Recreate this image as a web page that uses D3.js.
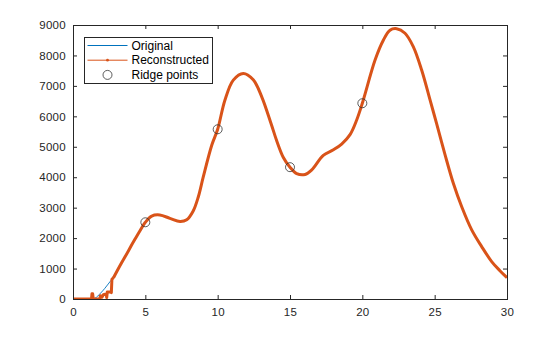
<!DOCTYPE html>
<html>
<head>
<meta charset="utf-8">
<script src="https://cdn.jsdelivr.net/npm/d3@7"></script>
<style>
  body { margin: 0; background: #fff; }
  svg { font-family: "Liberation Sans", Arial, sans-serif; }
</style>
</head>
<body>
<div id="chart"></div>
<script>
// Original signal
const origX = [0, 1.0, 1.5, 1.9, 2.2, 2.56, 2.8, 3.0, 3.36, 3.71, 4.06, 4.29, 4.6, 5.0, 5.44, 6.0, 6.7, 7.4, 7.86, 8.3, 8.66,
  9.0, 9.59, 10.0, 10.5, 11.08, 11.77, 12.46, 13.04, 13.7, 14.08, 14.54, 15.0, 15.46, 16.04, 16.5, 17.3, 18.0, 18.57,
  19.15, 19.61, 20.0, 20.88, 21.45, 21.91, 22.37, 22.95, 23.52, 24.1, 24.68, 25.14, 25.71, 26.29, 26.87, 27.56, 28.25,
  28.94, 29.51, 30];
const origY = [0, 0, 20, 190, 350, 570, 700, 880, 1190, 1480, 1780, 1970, 2220, 2520, 2725, 2760, 2650, 2545, 2600, 2880, 3350,
  4000, 5050, 5575, 6530, 7190, 7410, 7200, 6650, 5750, 5200, 4650, 4330, 4120, 4090, 4240, 4720, 4900, 5090,
  5400, 5880, 6430, 7850, 8500, 8830, 8880, 8730, 8290, 7520, 6540, 5750, 4750, 3800, 3030, 2270, 1720,
  1230, 930, 700];

// Reconstructed signal: noisy start, then follows the original
const reconHeadX = [0, 1.28, 1.31, 1.36, 1.4, 1.85, 1.9, 2.0, 2.1, 2.3, 2.33, 2.37, 2.6, 2.65, 2.69];
const reconHeadY = [0, 0, 170, 170, 0, 0, 110, 60, 140, 170, 50, 230, 230, 210, 650];

// Ridge points
const ridgeX = [5, 10, 15, 20];
const ridgeY = [2520, 5575, 4330, 6430];

const xTicks = [0, 5, 10, 15, 20, 25, 30];
const yTicks = [0, 1000, 2000, 3000, 4000, 5000, 6000, 7000, 8000, 9000];

const width = 560, height = 337;
const margin = { top: 25, right: 53, bottom: 38, left: 73 };
const w = width - margin.left - margin.right;
const h = height - margin.top - margin.bottom;

const blue = '#0072BD', orange = '#D95319', axisColor = '#262626';

const svg = d3.select('#chart').append('svg')
  .attr('width', width)
  .attr('height', height);

const g = svg.append('g')
  .attr('transform', `translate(${margin.left},${margin.top})`);

const x = d3.scaleLinear().domain([0, 30]).range([0, w]);
const y = d3.scaleLinear().domain([0, 9000]).range([h, 0]);

const orig = origX.map((d, i) => [d, origY[i]]);
const reconTail = orig.filter(d => d[0] >= 2.8);
const reconHead = reconHeadX.map((d, i) => [d, reconHeadY[i]]).concat([reconTail[0]]);

const smooth = d3.line()
  .x(d => x(d[0]))
  .y(d => y(d[1]))
  .curve(d3.curveCatmullRom.alpha(0.5));

const straight = d3.line()
  .x(d => x(d[0]))
  .y(d => y(d[1]));

g.append('defs').append('clipPath').attr('id', 'clip')
  .append('rect').attr('width', w).attr('height', h);

const plot = g.append('g').attr('clip-path', 'url(#clip)');

// Original
plot.append('path')
  .datum(orig)
  .attr('d', smooth)
  .attr('fill', 'none')
  .attr('stroke', blue)
  .attr('stroke-width', 0.9);

// Reconstructed (dense markers make it look thick)
plot.append('path')
  .datum(reconHead)
  .attr('d', straight)
  .attr('fill', 'none')
  .attr('stroke', orange)
  .attr('stroke-width', 3)
  .attr('stroke-linejoin', 'round');

plot.append('path')
  .datum(reconTail)
  .attr('d', smooth)
  .attr('fill', 'none')
  .attr('stroke', orange)
  .attr('stroke-width', 3)
  .attr('stroke-linejoin', 'round');

// Ridge points
g.selectAll('.ridge')
  .data(ridgeX)
  .enter().append('circle')
  .attr('class', 'ridge')
  .attr('cx', d => x(d))
  .attr('cy', (d, i) => y(ridgeY[i]))
  .attr('r', 4.5)
  .attr('fill', 'none')
  .attr('stroke', '#333')
  .attr('stroke-width', 0.8);

// Axes, ticks pointing inward
const styleAxis = sel => {
  sel.select('.domain').remove();
  sel.selectAll('line').attr('stroke', axisColor);
  sel.selectAll('text')
    .attr('fill', axisColor)
    .style('font-size', '11.5px')
    .style('letter-spacing', '0.3px');
};

g.append('g')
  .attr('transform', `translate(0,${h})`)
  .call(d3.axisBottom(x).tickValues(xTicks).tickSizeInner(-4).tickSizeOuter(0).tickPadding(9))
  .call(styleAxis);

g.append('g')
  .call(d3.axisTop(x).tickValues(xTicks).tickSizeInner(-4).tickSizeOuter(0).tickFormat(''))
  .call(styleAxis);

g.append('g')
  .call(d3.axisLeft(y).tickValues(yTicks).tickFormat(d3.format('d')).tickSizeInner(-4).tickSizeOuter(0).tickPadding(7))
  .call(styleAxis);

g.append('g')
  .attr('transform', `translate(${w},0)`)
  .call(d3.axisRight(y).tickValues(yTicks).tickSizeInner(-4).tickSizeOuter(0).tickFormat(''))
  .call(styleAxis);

// Box
g.append('rect')
  .attr('width', w)
  .attr('height', h)
  .attr('fill', 'none')
  .attr('stroke', axisColor)
  .attr('stroke-width', 1)
  .attr('shape-rendering', 'crispEdges');

// Legend
const legend = svg.append('g').attr('transform', 'translate(84,37)');
legend.append('rect')
  .attr('width', 128)
  .attr('height', 46)
  .attr('fill', '#fff')
  .attr('stroke', axisColor)
  .attr('stroke-width', 1)
  .attr('shape-rendering', 'crispEdges');

const items = ['Original', 'Reconstructed', 'Ridge points'];
const rows = legend.selectAll('.item')
  .data(items)
  .enter().append('g')
  .attr('class', 'item')
  .attr('transform', (d, i) => `translate(0,${8.5 + i * 14.7})`);

rows.append('text')
  .attr('x', 47.5)
  .attr('y', 0)
  .attr('dy', '0.35em')
  .attr('fill', '#000')
  .style('font-size', '12px')
  .text(d => d);

rows.filter((d, i) => i < 2).append('line')
  .attr('x1', 3.5).attr('x2', 43.5)
  .attr('stroke', (d, i) => i === 0 ? blue : orange)
  .attr('stroke-width', 1);

rows.filter((d, i) => i === 1).append('circle')
  .attr('cx', 23.5).attr('r', 1.4)
  .attr('fill', orange);

rows.filter((d, i) => i === 2).append('circle')
  .attr('cx', 23.5).attr('r', 4.5)
  .attr('fill', 'none')
  .attr('stroke', '#333')
  .attr('stroke-width', 0.8);
</script>
</body>
</html>
